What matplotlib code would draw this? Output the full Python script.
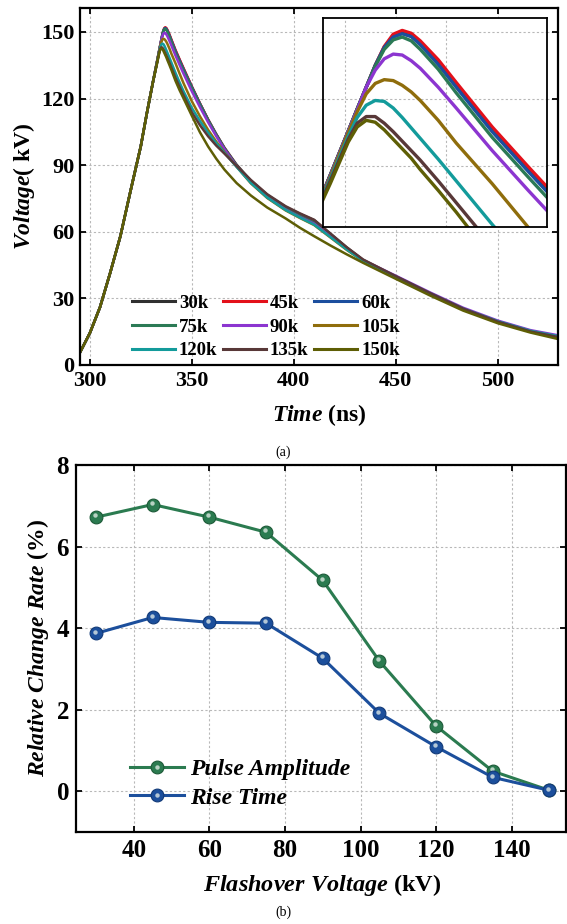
import matplotlib
matplotlib.use("Agg")
import matplotlib.pyplot as plt
import matplotlib.transforms as mtransforms
from matplotlib.legend_handler import HandlerTuple

plt.rcParams['font.family'] = ['Liberation Serif', 'DejaVu Serif']
plt.rcParams['font.weight'] = 'bold'
plt.rcParams['mathtext.fontset'] = 'custom'
plt.rcParams['mathtext.rm'] = 'Liberation Serif:bold'
plt.rcParams['mathtext.it'] = 'Liberation Serif:italic:bold'
plt.rcParams['mathtext.bf'] = 'Liberation Serif:bold'

# ---- (a) waveforms: shared rising edge, then one trace per flashover voltage
t_rise = [295, 300, 305, 310, 315, 320, 325, 328, 331]
v_rise = [5.3, 14.3, 26.0, 41.5, 58.0, 78.5, 98.5, 113.5, 127.6]

t_after = [333, 334, 334.5, 335, 335.5, 336, 336.5, 337, 337.5, 338, 339, 340,
           342, 344, 346,
           350, 354, 358, 362, 366, 372, 379, 387, 396, 403, 410, 418, 426,
           434, 450, 467, 483, 500, 516, 530]

v_30k = [136.8, 141.45, 143.8, 146.1, 148.4, 150.3, 151.5, 151.8, 151.5, 150.7,
         148.7, 146.3, 141.6, 137.4, 133.3,
         125.3, 117.8, 110.6, 104.0, 97.9, 90.2, 83.0, 76.6, 71.2, 68.0, 65.2,
         59.0, 52.9, 47.3, 39.8, 32.1, 25.3, 19.5, 15.2, 12.6]
v_45k = [136.8, 141.45, 143.8, 146.1, 148.4, 150.4, 151.7, 152.1, 151.8, 151.0,
         149.0, 146.6, 141.9, 137.7, 133.6,
         125.5, 117.8, 110.5, 103.8, 97.7, 89.8, 82.5, 76.0, 70.5, 67.3, 64.3,
         58.5, 52.5, 47.0, 39.7, 32.0, 25.2, 19.5, 15.2, 12.7]
v_60k = [136.8, 141.45, 143.8, 146.1, 148.4, 150.3, 151.4, 151.75, 151.45, 150.6,
         148.5, 146.1, 141.4, 137.2, 133.1,
         125.2, 117.6, 110.3, 103.7, 97.5, 89.7, 82.4, 75.9, 70.4, 67.1, 64.1,
         58.4, 52.4, 47.0, 39.7, 32.0, 25.2, 19.5, 15.2, 12.7]
v_75k = [136.8, 141.45, 143.8, 146.1, 148.3, 150.1, 151.1, 151.4, 151.0, 150.1,
         148.0, 145.5, 140.8, 136.6, 132.5,
         124.8, 117.3, 110.2, 103.6, 97.5, 89.7, 82.4, 76.0, 70.5, 67.1, 64.0,
         58.3, 52.3, 47.0, 39.8, 32.1, 25.3, 19.6, 15.3, 12.8]
v_90k = [136.7, 141.4, 143.7, 146.1, 147.9, 149.1, 149.6, 149.5, 148.9, 148.1,
         146.1, 143.9, 139.4, 135.2, 131.1,
         123.3, 116.1, 109.3, 103.0, 97.2, 89.4, 82.0, 75.5, 70.0, 66.6, 63.6,
         58.0, 52.3, 47.2, 40.2, 32.6, 25.8, 20.0, 15.7, 13.3]
v_105k = [136.6, 141.3, 143.5, 145.4, 146.5, 146.9, 146.8, 146.3, 145.6, 144.7,
          142.6, 140.2, 135.9, 131.3, 126.8,
          118.8, 112.0, 105.9, 100.6, 95.9, 89.3, 81.8, 75.2, 69.6, 66.2, 63.0,
          57.4, 51.8, 46.8, 39.5, 31.8, 25.0, 19.3, 15.0, 12.4]
v_120k = [136.4, 140.9, 142.9, 144.2, 144.7, 144.6, 143.9, 142.9, 141.8, 140.7,
          138.5, 136.2, 131.6, 127.3, 123.2,
          115.8, 109.9, 104.6, 99.9, 95.6, 89.2, 82.0, 75.4, 69.8, 66.4, 63.2,
          57.6, 52.0, 46.9, 39.8, 32.2, 25.4, 19.7, 15.4, 12.9]
v_135k = [136.2, 140.6, 142.3, 143.0, 143.0, 142.3, 141.4, 140.4, 139.4, 138.4,
          136.2, 133.9, 129.3, 125.2, 121.3,
          113.8, 108.0, 103.0, 98.8, 95.2, 89.6, 83.3, 76.9, 71.5, 68.3, 65.4,
          59.2, 53.0, 47.5, 40.0, 32.3, 25.4, 19.5, 15.1, 12.5]
v_150k = [135.9, 140.3, 141.9, 142.6, 142.4, 141.6, 140.6, 139.6, 138.6, 137.4,
          135.2, 132.9, 128.0, 123.8, 120.0,
          112.3, 104.8, 98.4, 92.9, 88.0, 81.9, 76.3, 70.9, 66.0, 61.8, 58.0,
          53.8, 49.8, 46.0, 38.8, 31.2, 24.5, 18.8, 14.6, 11.6]

wave_labels = ['30k', '45k', '60k', '75k', '90k', '105k', '120k', '135k', '150k']
wave_values = [v_30k, v_45k, v_60k, v_75k, v_90k, v_105k, v_120k, v_135k, v_150k]
wave_colors = ['#303030', '#e3101a', '#1c4e9e', '#2b7a55', '#8c35d0',
               '#8f6d0c', '#139b9b', '#583838', '#5e5e05']

# ---- (b) relative change rate
flash_kv = [30, 45, 60, 75, 90, 105, 120, 135, 150]
pulse_amp = [6.72, 7.03, 6.72, 6.35, 5.17, 3.19, 1.60, 0.49, 0.02]
rise_time = [3.87, 4.26, 4.14, 4.12, 3.26, 1.91, 1.09, 0.34, 0.02]

grid_kw = dict(color='#b8b8b8', linestyle=(0, (2, 2)), linewidth=0.8)

fig = plt.figure(figsize=(5.67, 9.24), dpi=100)

# ---------------- top chart
ax1 = fig.add_axes([0.1411, 0.6050, 0.8436, 0.3864])
t_all = t_rise + t_after
lines = []
for lab, vals, col in zip(wave_labels, wave_values, wave_colors):
    ln, = ax1.plot(t_all, v_rise + vals, color=col, lw=1.8, label=lab)
    lines.append(ln)
ax1.set_xlim(295.2, 529.7)
ax1.set_ylim(0, 160.8)
ax1.set_xticks([300, 350, 400, 450, 500])
ax1.set_yticks([0, 30, 60, 90, 120, 150])
ax1.grid(True, **grid_kw)
ax1.tick_params(direction='in', top=True, right=True, length=4, width=1.3,
                labelsize=16, pad=4)
for sp in ax1.spines.values():
    sp.set_linewidth(1.6)
ax1.set_xlabel(r'$\mathit{Time}$ (ns)', fontsize=17, fontweight='bold')
ax1.set_ylabel(r'$\mathit{Voltage}$( kV)', fontsize=17, fontweight='bold')
ax1.xaxis.set_label_coords(0.5, -0.105)
ax1.yaxis.set_label_coords(-0.09, 0.5)

# legend filled row by row (3 per row)
order = [0, 3, 6, 1, 4, 7, 2, 5, 8]
leg1 = ax1.legend([lines[i] for i in order], [wave_labels[i] for i in order],
                  ncol=3, loc='lower left', bbox_to_anchor=(0.108, 0.016),
                  frameon=False, fontsize=13.5, handlelength=2.3,
                  handletextpad=0.22, columnspacing=0.28, labelspacing=0.35,
                  borderpad=0, borderaxespad=0)
for ln in leg1.get_lines():
    ln.set_linewidth(2.2)

# inset: zoom on the peaks
axin = fig.add_axes([0.5697, 0.7543, 0.3956, 0.2262])
axin.set_zorder(3)
axin.set_facecolor('white')
for vals, col in zip(wave_values, wave_colors):
    axin.plot(t_all, v_rise + vals, color=col, lw=2.4)
axin.set_xlim(332.6, 345.06)
axin.set_ylim(131.33, 153.41)
axin.set_xticks([333.8, 339.45])
axin.set_yticks([137.8, 144.9, 151.9])
axin.tick_params(length=0, labelbottom=False, labelleft=False)
axin.grid(True, **grid_kw)
for sp in axin.spines.values():
    sp.set_linewidth(1.3)

fig.text(283 / 567, 1 - 452 / 924, '(a)', ha='center', va='center',
         fontsize=10, fontweight='normal')

# ---------------- bottom chart
ax2 = fig.add_axes([0.134, 0.0996, 0.865, 0.3972])
series = [(pulse_amp, '#2b7b50', '#1d5a38', 'Pulse Amplitude'),
          (rise_time, '#1c4f9c', '#123a78', 'Rise Time')]
shine = mtransforms.offset_copy(ax2.transData, fig=fig, x=-1.0, y=1.8,
                                units='dots')
handles = []
for vals, col, edge, lab in series:
    ln, = ax2.plot(flash_kv, vals, '-o', color=col, lw=2.2, ms=9.2,
                   mfc=col, mec=edge, mew=0.8)
    hl, = ax2.plot(flash_kv, vals, 'o', ls='none', ms=3.2, mfc='#e8f0ea',
                   mec='none', alpha=0.75, transform=shine)
    handles.append(((ln, hl), lab))

ax2.set_xlim(24.7, 154.5)
ax2.set_ylim(-1, 8)
ax2.set_xticks([40, 60, 80, 100, 120, 140])
ax2.set_yticks([0, 2, 4, 6, 8])
ax2.grid(True, **grid_kw)
ax2.tick_params(direction='in', top=True, right=True, length=4, width=1.3,
                labelsize=18, pad=5)
for sp in ax2.spines.values():
    sp.set_linewidth(1.6)
ax2.set_xlabel(r'$\mathit{Flashover\ Voltage}$ (kV)', fontsize=17.5,
               fontweight='bold')
ax2.set_ylabel(r'$\mathit{Relative\ Change\ Rate}$ (%)', fontsize=17,
               fontweight='bold')
ax2.xaxis.set_label_coords(0.5026, -0.108)
ax2.yaxis.set_label_coords(-0.05, 0.5)

leg2 = ax2.legend([h for h, _ in handles], [l for _, l in handles],
                  handler_map={tuple: HandlerTuple(ndivide=1)},
                  loc='lower left', bbox_to_anchor=(0.11, 0.0635),
                  frameon=False, numpoints=1, handlelength=2.3,
                  handletextpad=0.25, labelspacing=0.3, borderpad=0,
                  borderaxespad=0,
                  prop={'family': 'Liberation Serif', 'style': 'italic',
                        'weight': 'bold', 'size': 17})

fig.text(283 / 567, 1 - 912 / 924, '(b)', ha='center', va='center',
         fontsize=10, fontweight='normal')

fig.savefig('out.png', dpi=100)
